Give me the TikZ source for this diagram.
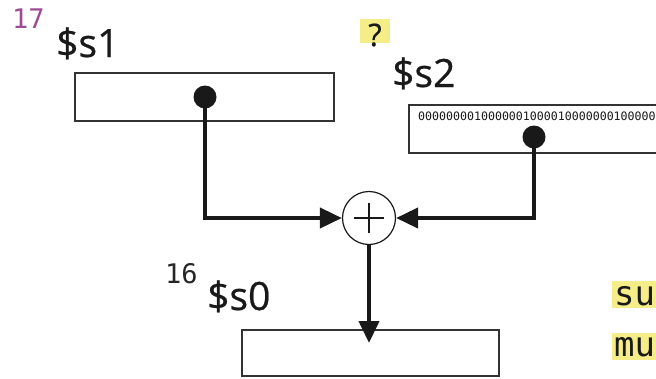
\documentclass[tikz,border=0pt]{standalone}
\usepackage{fontspec}
\setmainfont{Open Sans}
\newfontfamily\lblfont{Open Sans}[FakeBold=0.6]
\newfontfamily\monofont{DejaVu Sans Mono}
\usetikzlibrary{arrows.meta}
\definecolor{hl}{HTML}{F5EE88}
\definecolor{purp}{HTML}{9C4C94}
\definecolor{boxc}{HTML}{333333}
\tikzset{
  regbox/.style={draw=boxc,line width=1.2pt},
  conn/.style={line width=4pt,draw=black!90,-{Triangle[length=22pt,width=20pt]}},
  dotc/.style={circle,fill=black!90,inner sep=0pt,minimum size=23pt},
  lbl/.style={anchor=base west,inner sep=0pt,text=black!90},
  reglbl/.style={lbl,font=\lblfont\fontsize{39}{39}\selectfont},
}
\begin{document}
\begin{tikzpicture}[x=1pt,y=-1pt]
\useasboundingbox (0,0) rectangle (656,378);
\clip (0,0) rectangle (656,378);
% boxes
\draw[regbox] (75,73) rectangle (334,121);
\draw[regbox] (409,105) rectangle (670,153);
\draw[regbox] (242,330) rectangle (499,376);
% labels
\node[lbl,text=purp,font=\monofont\fontsize{27}{27}\selectfont] (n17) at (12,28) {17};
\node[reglbl] (ls1) at (56,57) {\$s1};
\fill[hl] (360,19) rectangle (390,43);
\node[font=\lblfont\fontsize{31}{31}\selectfont,text=black!90,inner sep=0pt,anchor=base] (q) at (375,46) {?};
\node[reglbl] (ls2) at (392,87) {\$s2};
\node[lbl,font=\monofont\fontsize{11.6}{11.6}\selectfont] (bits) at (418,120) {0000000010000001000010000000100000};
\node[lbl,text=black!85,font=\monofont\fontsize{27}{27}\selectfont] (n16) at (165,283) {16};
\node[reglbl] (ls0) at (207,310) {\$s0};
\fill[hl] (612,281) rectangle (660,308);
\fill[hl] (612,333) rectangle (660,360);
\node[lbl,font=\monofont\fontsize{34}{34}\selectfont] (su) at (614,305) {su};
\node[lbl,font=\monofont\fontsize{34}{34}\selectfont] (mu) at (614,356) {mu};
% adder
\node[circle,draw=black!90,line width=1.2pt,minimum size=53pt,inner sep=0pt] (add) at (369,218) {};
\draw[line width=2.6pt,black!90] (add.center) ++(-15,0) -- ++(30,0) (add.center) ++(0,-15) -- ++(0,30);
% dots
\node[dotc] (d1) at (205,97) {};
\node[dotc] (d2) at (534,137) {};
\coordinate (tip0) at (369,343);
% connectors
\draw[conn] (d1.center) |- (add.west);
\draw[conn] (d2.center) |- (add.east);
\draw[conn] (add.south) -- (tip0);
\end{tikzpicture}
\end{document}
